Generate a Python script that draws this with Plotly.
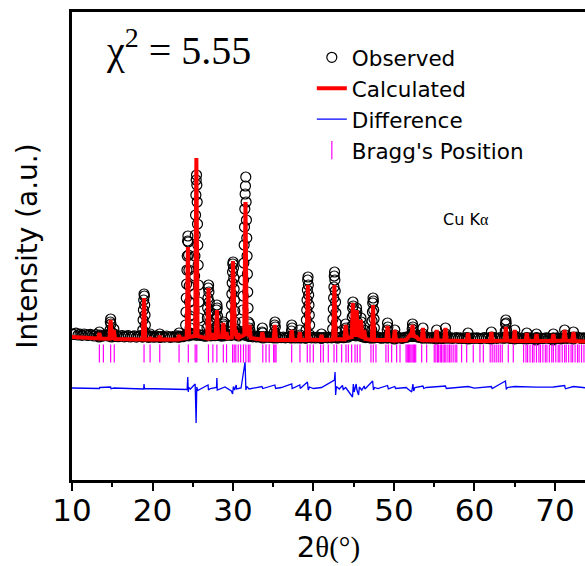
import plotly.graph_objects as go

# ---------------- data ----------------
# Observed background points: 2theta start 10.0, step 0.25 deg
obs_base_start = 10.0
obs_base_step = 0.25
obs_base_y = [
    1462, 1455, 1468, 1450, 1458, 1447, 1460, 1452, 1445, 1457, 1449, 1440, 1455, 1443, 1450, 1438, 1446, 1452, 1440, 1447,
    1442, 1436, 1448, 1433, 1440, 1445, 1432, 1438, 1444, 1430, 1437, 1441, 1429, 1436, 1443, 1431, 1438, 1434, 1427, 1440,
    1433, 1428, 1439, 1431, 1426, 1436, 1429, 1440, 1432, 1427, 1435, 1430, 1442, 1428, 1437, 1433, 1440, 1446, 1441, 1452,
    1450, 1458, 1447, 1455, 1445, 1450, 1438, 1446, 1452, 1441, 1448, 1443, 1455, 1446, 1440, 1450, 1444, 1449, 1453, 1446,
    1455, 1450, 1461, 1452, 1458, 1463, 1448, 1442, 1436, 1440, 1432, 1438, 1430, 1435, 1428, 1434, 1427, 1433, 1426, 1431,
    1425, 1432, 1422, 1429, 1424, 1430, 1421, 1427, 1433, 1423, 1428, 1420, 1426, 1431, 1422, 1427, 1419, 1425, 1430, 1421,
    1426, 1420, 1428, 1423, 1418, 1425, 1430, 1421, 1427, 1422, 1429, 1424, 1419, 1426, 1431, 1423, 1436, 1428, 1440, 1445,
    1448, 1442, 1450, 1440, 1436, 1430, 1424, 1428, 1421, 1426, 1420, 1425, 1430, 1422, 1418, 1424, 1429, 1421, 1426, 1419,
    1424, 1418, 1426, 1421, 1416, 1423, 1428, 1432, 1438, 1435, 1440, 1434, 1429, 1425, 1420, 1426, 1419, 1424, 1418, 1423,
    1417, 1422, 1426, 1419, 1415, 1421, 1425, 1418, 1423, 1416, 1420, 1424, 1417, 1422, 1415, 1420, 1425, 1418, 1414, 1421,
    1416, 1422, 1418, 1413, 1420, 1424, 1417, 1421, 1415, 1419, 1423, 1416, 1420, 1425, 1418, 1422, 1428, 1420, 1415, 1421,
    1417, 1423, 1415, 1420, 1414, 1419, 1424, 1416, 1421, 1413, 1418, 1423, 1415, 1420, 1414, 1419, 1422, 1416, 1413, 1420,
    1415, 1421, 1417, 1412, 1419, 1424, 1416, 1421, 1426, 1418, 1423, 1430, 1421, 1416, 1422, 1417, 1413, 1419, 1415, 1420,
]

# Observed points across each reflection: centre (deg) and intensities at 0.04 deg step
obs_peak_step = 0.04
obs_peak_centers = [13.4, 14.8, 15.2, 18.95, 19.7, 20.9, 23.3, 24.4, 25.45, 26.95, 27.5, 28.0,
                    28.8, 29.2, 30.0, 30.35, 30.65, 31.55, 32.05, 33.65, 35.2, 37.3, 38.3, 39.3,
                    41.0, 42.6, 44.0, 44.9, 45.35, 45.9, 46.3, 47.4, 49.2, 50.1, 52.3, 53.6,
                    55.3, 56.4, 59.2, 62.1, 63.9, 65.0, 66.5, 67.7, 69.8, 71.2, 72.3]
obs_peak_y = [
    [1430, 1480, 1440],
    [1440, 1500, 1580, 1610, 1560, 1480, 1430],
    [1440, 1510, 1460],
    [1430, 1500, 1600, 1700, 1800, 1860, 1840, 1750, 1650, 1550, 1460],
    [1440, 1460, 1430],
    [1430, 1460, 1430],
    [1430, 1470, 1440],
    [1450, 1550, 1680, 1820, 1960, 2100, 2240, 2390, 2440, 2380, 2250, 2100, 1940, 1780, 1640, 1520, 1460],
    [1460, 1560, 1700, 1860, 2040, 2240, 2450, 2650, 2850, 3000, 3050, 2950, 2780, 2560, 2350, 2150, 1950, 1780, 1620, 1500],
    [1440, 1520, 1620, 1720, 1820, 1920, 1950, 1880, 1780, 1680, 1580, 1480],
    [1450, 1500, 1460],
    [1450, 1530, 1620, 1700, 1750, 1720, 1640, 1550, 1470],
    [1440, 1500, 1560, 1580, 1540, 1470],
    [1450, 1490, 1460],
    [1450, 1540, 1640, 1750, 1860, 1970, 2080, 2160, 2180, 2120, 2020, 1910, 1800, 1690, 1580, 1480],
    [1470, 1510, 1470],
    [1450, 1480, 1440],
    [1480, 1580, 1700, 1840, 2000, 2170, 2350, 2530, 2710, 2860, 2940, 3030, 2780, 2600, 2420, 2240, 2060, 1880, 1720, 1580, 1480],
    [1450, 1520, 1560, 1500, 1440],
    [1430, 1480, 1520, 1470, 1420],
    [1420, 1480, 1550, 1580, 1530, 1450],
    [1420, 1490, 1550, 1520, 1440],
    [1420, 1500, 1450],
    [1420, 1500, 1600, 1700, 1800, 1900, 2000, 2030, 1950, 1850, 1750, 1650, 1550, 1450],
    [1420, 1460, 1420],
    [1430, 1510, 1610, 1710, 1820, 1930, 2040, 2080, 2000, 1890, 1780, 1670, 1570, 1480],
    [1430, 1500, 1560, 1520, 1450],
    [1450, 1540, 1630, 1720, 1780, 1740, 1650, 1560, 1480],
    [1470, 1560, 1650, 1720, 1680, 1580, 1490],
    [1450, 1540, 1620, 1580, 1480],
    [1430, 1500, 1460],
    [1420, 1500, 1590, 1680, 1770, 1820, 1790, 1700, 1610, 1520, 1440],
    [1420, 1500, 1570, 1530, 1450],
    [1410, 1500, 1450],
    [1440, 1510, 1560, 1530, 1470],
    [1420, 1520, 1460],
    [1410, 1500, 1440],
    [1420, 1520, 1460],
    [1410, 1470, 1420],
    [1410, 1480, 1430],
    [1420, 1490, 1560, 1600, 1570, 1500, 1430],
    [1410, 1500, 1440],
    [1410, 1470, 1420],
    [1400, 1460, 1420],
    [1400, 1460, 1420],
    [1420, 1500, 1450],
    [1410, 1480, 1430],
]

# Calculated profile (2theta, intensity)
calc_profile = [
    (10.0, 1430),
    (13.25, 1415), (13.4, 1470), (13.55, 1415),
    (14.65, 1412), (14.8, 1600), (14.95, 1420), (15.05, 1420), (15.2, 1500), (15.35, 1410),
    (18.8, 1405), (18.95, 1820), (19.1, 1405),
    (19.6, 1405), (19.7, 1430), (19.8, 1405),
    (20.75, 1405), (20.9, 1440), (21.05, 1405),
    (23.15, 1405), (23.3, 1450), (23.45, 1410),
    (24.25, 1420), (24.4, 2330), (24.55, 1430),
    (25.3, 1440), (25.45, 3220), (25.6, 1440),
    (26.8, 1415), (26.95, 1920), (27.1, 1420),
    (27.4, 1420), (27.5, 1470), (27.6, 1420),
    (27.85, 1420), (28.0, 1700), (28.15, 1430),
    (28.65, 1430), (28.8, 1570), (28.95, 1430), (29.1, 1430), (29.2, 1480), (29.3, 1420),
    (29.85, 1425), (30.0, 2190), (30.15, 1440), (30.25, 1440), (30.35, 1500), (30.45, 1430),
    (30.6, 1425), (30.65, 1470), (30.75, 1425),
    (31.4, 1450), (31.55, 2780), (31.7, 1460), (31.9, 1450), (32.05, 1550), (32.2, 1420),
    (33.5, 1405), (33.65, 1480), (33.8, 1405),
    (35.05, 1400), (35.2, 1550), (35.35, 1400),
    (37.15, 1400), (37.3, 1500), (37.45, 1400),
    (38.15, 1400), (38.3, 1480), (38.45, 1400),
    (39.15, 1400), (39.3, 1950), (39.45, 1405),
    (40.85, 1400), (41.0, 1450), (41.15, 1400),
    (42.45, 1405), (42.6, 1950), (42.75, 1410),
    (43.85, 1405), (44.0, 1550), (44.15, 1420),
    (44.75, 1430), (44.9, 1770), (45.05, 1450), (45.2, 1450), (45.35, 1700), (45.5, 1450),
    (45.75, 1440), (45.9, 1600), (46.05, 1430), (46.2, 1420), (46.3, 1500), (46.45, 1410),
    (47.25, 1400), (47.4, 1750), (47.55, 1400),
    (49.05, 1400), (49.2, 1540), (49.35, 1400),
    (49.95, 1395), (50.1, 1500), (50.25, 1395),
    (51.5, 1400), (52.0, 1450), (52.15, 1430), (52.3, 1550), (52.45, 1440), (52.8, 1430), (53.0, 1410),
    (53.45, 1400), (53.6, 1520), (53.75, 1400),
    (55.15, 1395), (55.3, 1500), (55.45, 1395),
    (56.25, 1395), (56.4, 1520), (56.55, 1395),
    (59.05, 1390), (59.2, 1470), (59.35, 1390),
    (61.95, 1390), (62.1, 1480), (62.25, 1390),
    (63.75, 1395), (63.9, 1530), (64.05, 1395),
    (64.85, 1390), (65.0, 1500), (65.15, 1390),
    (66.35, 1390), (66.5, 1470), (66.65, 1390),
    (67.55, 1390), (67.7, 1460), (67.85, 1390),
    (69.65, 1390), (69.8, 1460), (69.95, 1390),
    (71.05, 1395), (71.2, 1500), (71.35, 1395),
    (72.15, 1390), (72.3, 1480), (72.45, 1390),
    (74.0, 1385),
]

# Difference curve (2theta, offset intensity)
diff_profile = [
    (10.0, 920), (13.4, 915), (13.45, 925), (14.8, 930), (14.85, 912), (15.2, 920),
    (18.9, 910), (18.95, 960), (19.0, 915), (24.3, 905), (24.38, 1030), (24.45, 880),
    (24.5, 925), (24.7, 910), (25.3, 960), (25.42, 570), (25.5, 930), (25.6, 895),
    (26.0, 910), (26.9, 950), (26.95, 900), (27.2, 915), (27.95, 925), (28.0, 1020),
    (28.05, 900), (28.6, 915), (29.0, 930), (29.8, 890), (29.95, 860), (30.05, 935),
    (30.2, 900), (30.4, 950), (30.45, 910), (31.0, 920), (31.5, 1180), (31.6, 900),
    (31.7, 935), (32.0, 910), (33.6, 935), (33.7, 915), (35.2, 950), (35.3, 915),
    (36.0, 925), (37.3, 960), (37.35, 915), (38.3, 950), (38.35, 915), (39.25, 980),
    (39.35, 900), (39.5, 930), (40.0, 915), (41.0, 925), (42.6, 1000), (42.68, 1080),
    (42.75, 850), (42.85, 935), (43.2, 910), (43.6, 945), (43.7, 905), (44.0, 925),
    (44.85, 830), (44.95, 960), (45.05, 880), (45.3, 960), (45.4, 900), (45.6, 850),
    (45.7, 930), (46.0, 900), (46.3, 940), (46.4, 910), (47.35, 990), (47.45, 900),
    (47.6, 925), (48.0, 915), (49.2, 945), (49.3, 912), (50.1, 935), (50.2, 915),
    (51.5, 925), (52.2, 880), (52.35, 960), (52.45, 890), (52.6, 925), (53.6, 940),
    (53.7, 915), (54.0, 925), (55.3, 935), (56.4, 940), (56.5, 915), (58.0, 922),
    (59.2, 935), (60.0, 918), (62.1, 935), (62.2, 915), (63.85, 990), (63.95, 905),
    (64.1, 925), (65.0, 935), (66.5, 930), (67.7, 928), (69.8, 930), (71.2, 945),
    (71.3, 912), (72.3, 935), (74.0, 920),
]

# Bragg reflection positions (deg) and the level of the tick row
bragg_pos = [
    13.4, 13.9, 14.8, 15.25, 18.95, 19.7, 20.9, 23.3, 24.45, 25.3, 25.5, 26.95, 27.5, 28.0,
    28.8, 29.2, 29.95, 30.15, 30.35, 30.65, 30.95, 31.3, 31.6, 31.9, 32.1, 33.7, 34.1, 34.5,
    35.05, 35.2, 35.35, 37.29, 38.32, 39.23, 39.57, 39.98, 40.89, 41.22, 41.84, 42.55, 42.88,
    43.5, 44.04, 44.33, 44.74, 45.16, 45.44, 45.78, 47.14, 47.43, 47.76, 49.0, 49.29, 49.71,
    50.33, 50.75, 51.5, 51.65, 51.8, 51.95, 52.1, 52.25, 52.4, 52.55, 52.7, 53.44, 54.06,
    55.0, 55.2, 55.4, 55.55, 55.75, 55.9, 56.1, 56.3, 56.45, 56.7, 56.9, 57.1, 57.35, 57.6,
    57.8, 58.4, 59.03, 59.85, 60.68, 61.1, 61.95, 62.2, 62.45, 62.7, 62.95, 63.2, 63.45,
    64.2, 64.82, 66.1, 66.4, 66.6, 66.9, 67.2, 67.4, 67.7, 68.0, 68.2, 68.5, 68.8, 69.0,
    69.3, 69.6, 69.8, 70.1, 70.4, 70.6, 70.9, 71.2, 71.4, 71.7, 72.0, 72.2, 72.5, 72.8,
    73.0, 73.3, 73.6,
]
bragg_level = 1265

x_tick_vals = [10, 20, 30, 40, 50, 60, 70]

# ---------------- assemble traces ----------------
obs_x, obs_y = [], []
for i, v in enumerate(obs_base_y):
    obs_x.append(obs_base_start + obs_base_step * i)
    obs_y.append(v)
for c, ys in zip(obs_peak_centers, obs_peak_y):
    n = len(ys)
    for j, v in enumerate(ys):
        obs_x.append(c + obs_peak_step * (j - (n - 1) / 2))
        obs_y.append(v)

calc_x = [p[0] for p in calc_profile]
calc_y = [p[1] for p in calc_profile]
diff_x = [p[0] for p in diff_profile]
diff_y = [p[1] for p in diff_profile]

SANS = "DejaVu Sans, Liberation Sans, Arial, sans-serif"
SERIF = "Times New Roman, Liberation Serif, DejaVu Serif, serif"

fig = go.Figure()
fig.add_trace(go.Scatter(
    x=obs_x, y=obs_y, mode="markers", name="Observed", legendgroup="a",
    marker=dict(symbol="circle-open", size=10, color="black", line=dict(width=1.2, color="black")),
))
fig.add_trace(go.Scatter(
    x=calc_x, y=calc_y, mode="lines", name="Calculated", legendgroup="b",
    line=dict(color="#ff0000", width=4),
))
fig.add_trace(go.Scatter(
    x=diff_x, y=diff_y, mode="lines", name="Difference", legendgroup="c",
    line=dict(color="#0000ff", width=1.3),
))
fig.add_trace(go.Scatter(
    x=bragg_pos, y=[bragg_level] * len(bragg_pos), mode="markers", name="Bragg's Position",
    legendgroup="d",
    marker=dict(symbol="line-ns-open", size=13, color="#ff00ff", line=dict(width=1.2, color="#ff00ff")),
))

fig.update_layout(
    width=585, height=566,
    margin=dict(l=72, r=0, t=12, b=86, autoexpand=False),
    paper_bgcolor="white", plot_bgcolor="white",
    showlegend=True,
    legend=dict(
        x=0.4675, y=0.947, xanchor="left", yanchor="top",
        font=dict(family=SANS, size=21.5, color="black"),
        bgcolor="rgba(0,0,0,0)", borderwidth=0,
        traceorder="grouped", tracegroupgap=0,
        itemwidth=30,
    ),
    annotations=[
        dict(text="χ<sup>2</sup> = 5.55", xref="paper", yref="paper", x=0.062, y=0.925,
             xanchor="left", yanchor="middle", showarrow=False,
             font=dict(family=SERIF, size=40, color="black")),
        dict(text="Cu K<span style='font-family:Liberation Serif'>α</span>", xref="paper", yref="paper",
             x=0.768, y=0.556, xanchor="center", yanchor="middle", showarrow=False,
             font=dict(family=SANS, size=16, color="black")),
    ],
)

fig.update_xaxes(
    range=[10, 73.73], automargin=False,
    showline=True, linecolor="black", linewidth=2.5, mirror=True,
    showgrid=False, zeroline=False,
    tickmode="array", tickvals=x_tick_vals,
    ticks="outside", ticklen=8, tickwidth=2, tickcolor="black",
    minor=dict(tickmode="linear", tick0=10, dtick=5, ticks="outside", ticklen=4, tickwidth=2, tickcolor="black"),
    tickfont=dict(family=SANS, size=31, color="black"),
    ticklabelstandoff=-7,
    title=dict(text="2<span style='font-family:Times New Roman, Liberation Serif, serif'>θ(°)</span>",
               font=dict(family=SANS, size=29, color="black"), standoff=10),
)
fig.update_yaxes(
    range=[0, 4680], automargin=False,
    showline=True, linecolor="black", linewidth=2.5,
    showgrid=False, zeroline=False,
    showticklabels=False, ticks="",
    title=dict(text="Intensity (a.u.)", font=dict(family=SANS, size=28, color="black"), standoff=24),
)

fig.write_html("out.html", post_script="document.body.style.margin='0';",
               config={"displayModeBar": False})
